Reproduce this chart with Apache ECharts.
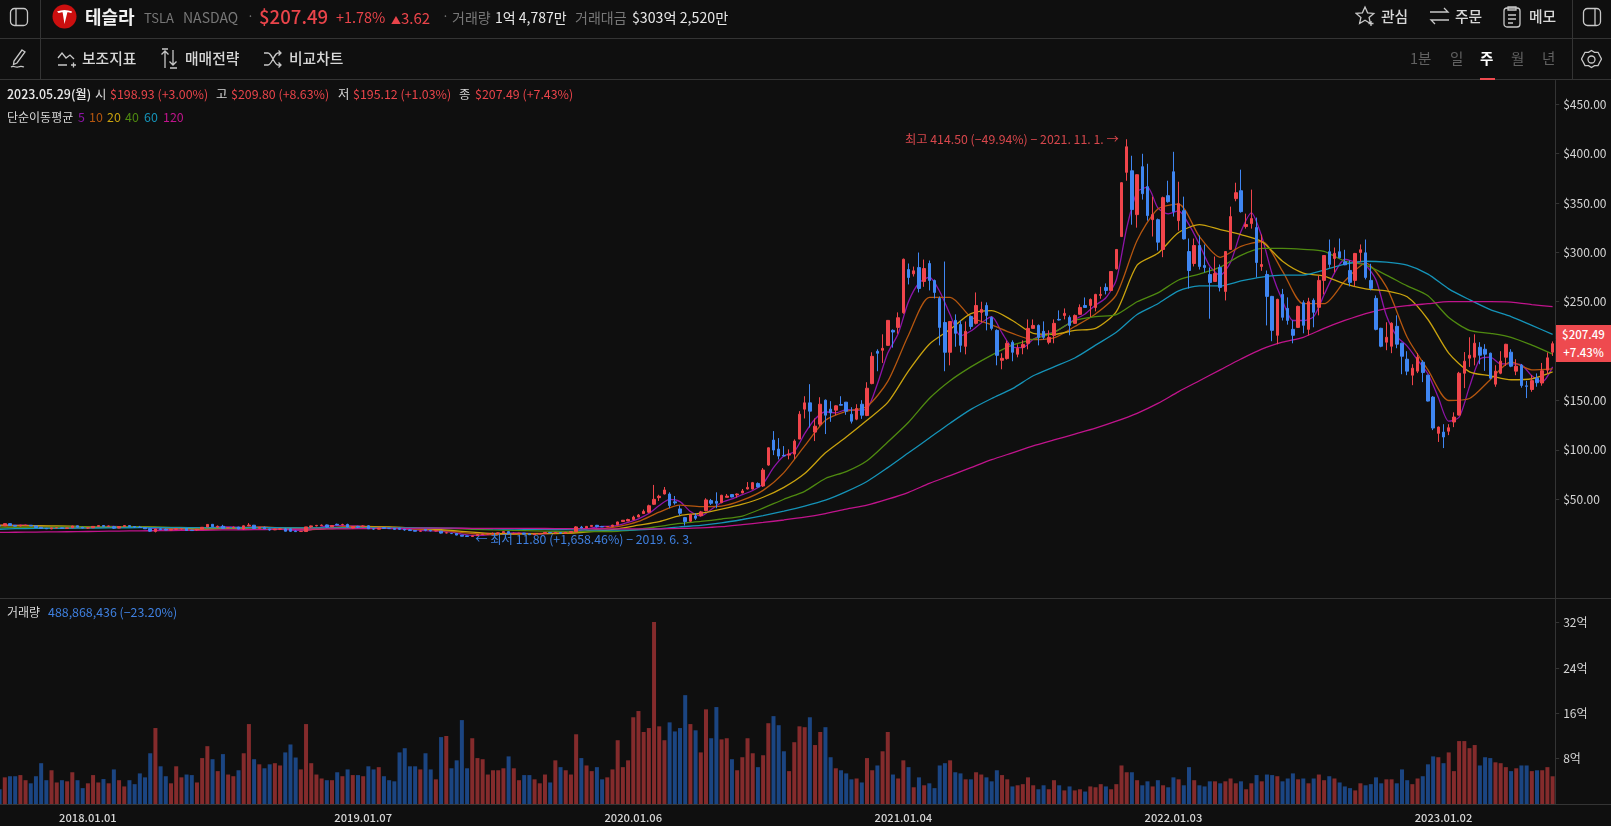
<!DOCTYPE html>
<html>
<head>
<meta charset="utf-8">
<title>테슬라 주봉</title>
<script src="https://cdn.jsdelivr.net/npm/echarts@6/dist/echarts.min.js"></script>
<style>
html, body { margin: 0; padding: 0; background: #0f0f0f; width: 1611px; height: 826px; overflow: hidden; }
body, #main { font-family: "Noto Sans CJK KR", "Noto Sans", sans-serif; }
/* first week is cut by the left edge, so the chart starts a little off the page */
#main { position: absolute; left: -3.4px; top: 0; width: 1614.4px; height: 826px; }
.t { position: absolute; white-space: nowrap; line-height: 1; transform: translateY(-50%); font-size: 12.4px; color: #d8d8d8; }
.r { color: #e9444a; } .g { color: #777; } .w { color: #e8e8e8; } .b { color: #d8d8d8; font-size: 14.8px; font-weight: 500; }
.hl { position: absolute; left: 0; width: 1611px; height: 1px; background: #343434; }
.vl { position: absolute; top: 0; width: 1px; height: 79px; background: #343434; }
svg { position: absolute; fill: none; stroke: #c8c8c8; stroke-width: 1.3; }
#badge { position: absolute; left: 1556px; width: 55px; height: 37px; background: #ee4a4f; color: #fff; font-size: 11.5px; font-weight: 500; text-align: center; line-height: 18px; }
</style>
</head>
<body>
<div id="main"></div>

<div class="hl" style="top:38px"></div>
<div class="hl" style="top:79px"></div>
<div class="hl" style="top:598px"></div>
<div class="hl" style="top:804px"></div>
<div class="vl" style="left:40px"></div>
<div class="vl" style="left:1572px"></div>

<svg style="left:9px;top:7px" width="20" height="20"><rect x="1.5" y="1.5" width="17" height="17" rx="4"/><path d="M7 2v16"/></svg>
<svg style="left:52px;top:4px;stroke:none" width="25" height="25"><circle cx="12.5" cy="12.5" r="12" fill="#cc0f0f"/><path d="M5 7.5c5-2 10-2 15 0l-.6 1.6c-1.6-.7-3-.9-4-.9L12.500 20 10.600 8.200c-1 0-2.400.2-4 .9z" fill="#fff"/></svg>
<div class="t" style="left:85px;top:16px;font-size:18px;font-weight:700;color:#f2f2f2">테슬라</div>
<div class="t g" style="left:144px;top:17px;font-size:13px">TSLA</div>
<div class="t g" style="left:183px;top:17px;font-size:14px">NASDAQ</div>
<div class="t g" style="left:247px;top:16px">·</div>
<div class="t r" style="left:259px;top:16px;font-size:18.6px;font-weight:500">$207.49</div>
<div class="t r" style="left:336px;top:17px;font-size:14.4px">+1.78%</div>
<div class="t r" style="left:391px;top:17px;font-size:15px"><span style="font-size:10px">▲</span>3.62</div>
<div class="t g" style="left:442px;top:16px">·</div>
<div class="t g" style="left:452px;top:17px;font-size:14px">거래량</div>
<div class="t w" style="left:495px;top:17px;font-size:14px">1억 4,787만</div>
<div class="t g" style="left:575px;top:17px;font-size:14px">거래대금</div>
<div class="t w" style="left:632px;top:17px;font-size:14.2px">$303억 2,520만</div>

<svg style="left:1355px;top:5px" width="22" height="22"><path d="M10 2l2.600 5.800 6.200.6-4.700 4.100 1.300 6-5.400-3.200-5.400 3.200 1.300-6L1.200 8.400l6.200-.6z"/><path d="M16 16v5M13.500 18.500h5"/></svg>
<div class="t b" style="left:1381px;top:16px">관심</div>
<svg style="left:1429px;top:6px" width="21" height="20"><path d="M1 6h18l-4-4M20 14H2l4 4"/></svg>
<div class="t b" style="left:1455px;top:16px">주문</div>
<svg style="left:1502px;top:5px" width="20" height="23"><rect x="2" y="3" width="16" height="19" rx="3"/><path d="M6 2h8v3H6zM6 10h8M6 14h8M6 18h5"/></svg>
<div class="t b" style="left:1529px;top:16px">메모</div>
<svg style="left:1582px;top:7px" width="20" height="20"><rect x="1.5" y="1.5" width="17" height="17" rx="4"/><path d="M13 2v16"/></svg>

<svg style="left:8px;top:48px" width="22" height="22"><path d="M14 2l3 2-8 11-3.500 1.500L6 13zM3 19c3-2 4 1 7 0s3-1 6 0"/></svg>
<svg style="left:57px;top:50px" width="20" height="18"><path d="M1 8l4-5 4 5 4-3 4 4M1 15h9M14 15h5M16.500 12.500v5"/></svg>
<div class="t b" style="left:82px;top:58px">보조지표</div>
<svg style="left:160px;top:48px" width="20" height="22"><path d="M5 20V3M1.500 6.500L5 3l3.500 3.500M13 2v15M9.500 13.500L13 17l3.500-3.500M2 1h6M10 20h7"/></svg>
<div class="t b" style="left:185px;top:58px">매매전략</div>
<svg style="left:263px;top:49px" width="20" height="20"><path d="M1 4h4c4 0 6 12 10 12h3M1 16h4c4 0 6-12 10-12h3M15.500 1.500L18 4l-2.500 2.500M15.500 13.500L18 16l-2.500 2.500"/></svg>
<div class="t b" style="left:289px;top:58px">비교차트</div>

<div class="t g" style="left:1410px;top:58px;font-size:14.5px;color:#616161">1분</div>
<div class="t g" style="left:1450px;top:58px;font-size:14.5px;color:#616161">일</div>
<div class="t" style="left:1480px;top:58px;font-size:14.5px;font-weight:700;color:#fff">주</div>
<div class="t g" style="left:1511px;top:58px;font-size:14.5px;color:#616161">월</div>
<div class="t g" style="left:1542px;top:58px;font-size:14.5px;color:#616161">년</div>
<div style="position:absolute;left:1480px;top:78px;width:15px;height:2px;background:#ee4a4f"></div>
<svg style="left:1581px;top:49px" width="21" height="21"><path d="M10.500 1.500l3 1.800 3.500 0 1.700 3.200 1.800 3.500-1.800 3.200-1.700 3.300-3.500.1-3 1.900-3-1.900-3.500-.1-1.700-3.300L.500 10l1.800-3.500L4 3.300l3.500 0z"/><circle cx="10.500" cy="10.500" r="3.500"/></svg>

<div class="t w" style="left:7px;top:94px;font-weight:500">2023.05.29(월)</div>
<div class="t" style="left:95px;top:94px">시</div>
<div class="t r" style="left:110px;top:94px">$198.93 (+3.00%)</div>
<div class="t" style="left:216px;top:94px">고</div>
<div class="t r" style="left:231px;top:94px">$209.80 (+8.63%)</div>
<div class="t" style="left:338px;top:94px">저</div>
<div class="t r" style="left:353px;top:94px">$195.12 (+1.03%)</div>
<div class="t" style="left:459px;top:94px">종</div>
<div class="t r" style="left:475px;top:94px">$207.49 (+7.43%)</div>

<div class="t" style="left:7px;top:117px;font-size:12px">단순이동평균</div>
<div class="t" style="left:78px;top:117px;color:#8e14a8">5</div>
<div class="t" style="left:89px;top:117px;color:#b5560f">10</div>
<div class="t" style="left:107px;top:117px;color:#c9a20e">20</div>
<div class="t" style="left:125px;top:117px;color:#4f8a10">40</div>
<div class="t" style="left:144px;top:117px;color:#1593b8">60</div>
<div class="t" style="left:163px;top:117px;color:#c0148c">120</div>

<div class="t" style="left:7px;top:612px;font-size:12px">거래량</div>
<div class="t" style="left:48px;top:612px;color:#3f80e0">488,868,436 (−23.20%)</div>

<div id="badge">$207.49<br>+7.43%</div>

<script>
// weekly candles, one row per week from 2017.09.04: [open, close, low, high]
var candles = [
	[23.3,22.9,22.6,23.7],[23.1,25.3,23.0,25.4],[25.3,23.4,23.2,25.8],[23.6,22.7,22.4,23.9],[22.9,23.7,22.7,24.0],
	[23.6,23.7,23.0,24.0],[23.7,23.0,22.9,23.9],[23.0,21.4,21.2,23.1],[21.5,20.4,19.9,21.9],[20.6,20.1,19.9,20.9],
	[20.0,21.0,19.7,21.2],[21.0,21.1,20.8,21.4],[21.1,20.4,20.2,21.3],[20.5,21.0,20.2,21.2],[21.1,22.9,21.0,23.0],
	[23.1,21.7,21.5,23.2],[21.6,20.8,20.7,22.0],[20.8,21.1,19.9,21.5],[21.1,22.5,21.0,22.6],[22.4,23.3,22.0,23.4],
	[23.4,22.5,22.2,23.8],[22.5,22.9,22.0,23.3],[22.2,20.7,19.9,23.0],[20.8,22.3,20.6,22.6],[22.3,23.3,22.1,23.6],
	[23.3,22.3,21.9,23.6],[22.3,21.8,21.0,22.9],[21.8,21.4,21.0,23.0],[21.3,20.1,19.9,21.5],[20.2,17.7,16.9,20.3],
	[17.4,19.9,16.4,20.1],[20.1,19.2,19.0,20.8],[19.7,18.8,18.7,20.3],[18.8,19.5,18.8,19.8],[19.6,20.2,18.8,20.5],
	[20.0,20.2,19.2,20.6],[20.4,18.4,18.3,20.7],[18.7,18.3,18.3,19.1],[19.0,19.7,18.0,19.8],[19.8,21.6,19.6,21.9],
	[21.9,24.5,21.5,24.7],[24.6,22.2,22.0,24.9],[21.7,22.6,20.8,23.4],[22.6,20.6,20.2,24.1],[21.1,21.2,20.6,21.8],
	[21.1,21.8,20.8,22.3],[21.9,19.8,19.6,22.0],[19.9,23.1,19.1,23.5],[23.1,23.8,22.8,25.8],[23.7,20.4,20.0,24.0],
	[20.6,21.5,20.5,21.9],[21.5,20.1,19.9,22.3],[19.9,18.9,18.2,20.0],[19.0,19.8,18.7,20.1],[19.7,20.0,18.8,20.4],
	[20.0,17.6,17.5,21.0],[20.0,17.5,16.9,20.6],[17.7,17.2,16.9,18.5],[17.3,17.4,16.9,18.0],[17.3,22.0,17.0,22.0],
	[22.0,23.0,21.0,23.4],[23.0,23.5,22.5,24.0],[23.3,23.8,22.8,24.4],[24.0,21.8,21.4,24.4],[22.0,23.4,21.8,23.6],
	[24.6,23.9,23.6,25.3],[24.1,24.4,23.5,25.2],[24.5,21.9,21.6,25.2],[20.9,22.2,20.5,22.6],[22.5,21.8,20.7,23.1],
	[22.0,23.0,21.7,23.5],[23.1,20.1,19.9,23.5],[20.1,19.8,19.0,20.4],[19.7,20.9,19.4,21.0],[21.3,20.4,20.3,21.4],
	[20.6,20.5,19.9,20.9],[20.5,19.5,19.3,20.7],[20.7,19.6,19.0,21.0],[19.6,18.9,18.1,20.0],[19.0,18.3,18.0,19.9],
	[18.4,17.6,17.5,18.6],[17.6,17.9,17.1,18.2],[19.4,18.5,17.6,19.6],[18.5,17.9,17.5,18.6],[17.8,18.2,17.5,18.4],
	[17.7,15.7,15.2,17.9],[15.9,16.0,15.5,16.5],[15.3,15.2,14.9,16.0],[15.3,13.7,13.5,15.6],[13.6,12.6,12.5,13.8],
	[12.9,12.3,12.2,13.1],[12.3,13.0,11.8,13.1],[13.1,14.2,13.0,14.8],[14.4,14.9,14.3,15.1],[14.9,15.0,14.4,15.2],
	[15.0,15.4,14.9,16.3],[15.2,16.0,15.1,16.3],[16.0,17.2,16.0,17.5],[17.2,15.2,15.0,17.6],[15.2,15.5,15.0,16.2],
	[15.1,15.7,14.9,16.0],[15.7,14.6,14.4,15.9],[15.0,14.1,14.0,15.3],[14.1,15.0,14.0,15.3],[14.9,15.2,14.7,15.4],
	[15.3,16.4,15.1,16.4],[16.4,16.0,15.6,16.6],[16.0,16.2,14.9,16.6],[16.3,15.6,15.1,16.6],[15.5,16.5,15.1,16.8],
	[16.5,17.2,16.4,17.3],[17.2,22.0,16.9,22.7],[21.8,20.9,20.6,23.0],[21.0,22.5,20.8,22.7],[22.5,23.5,22.4,23.7],
	[23.6,22.2,21.4,24.0],[22.3,22.0,21.9,23.0],[22.1,22.4,22.0,22.9],[22.5,23.8,22.2,24.1],[24.2,27.0,24.0,27.3],
	[27.4,28.7,27.4,29.0],[28.0,29.5,27.9,30.3],[29.4,31.9,29.3,33.3],[32.0,34.0,31.9,35.0],[35.5,37.7,35.4,39.6],
	[36.9,43.4,35.9,44.5],[44.9,49.9,44.2,64.5],[51.6,53.0,48.3,54.5],[55.3,59.4,54.9,62.4],[55.3,43.6,40.9,57.0],
	[47.4,46.3,44.5,53.3],[40.2,35.8,33.5,43.6],[31.4,27.4,23.4,32.1],[27.7,34.5,26.9,35.2],[33.1,30.8,29.1,35.8],
	[33.4,37.2,32.4,38.2],[38.5,49.3,37.8,51.0],[48.6,45.9,44.2,50.3],[47.9,45.9,40.9,57.0],[46.6,54.0,45.9,54.5],
	[51.9,53.2,51.9,55.3],[54.7,52.3,51.9,55.3],[54.4,55.3,51.6,55.9],[56.4,58.4,56.0,60.4],[60.4,62.0,60.0,67.4],
	[60.4,66.8,60.0,67.5],[66.0,62.4,61.9,67.0],[63.4,79.6,62.4,81.6],[84.6,102.1,83.9,102.5],[109.9,99.8,94.7,119.0],
	[100.8,93.7,90.3,111.9],[94.4,93.8,93.6,103.8],[94.7,95.7,90.4,100.5],[95.7,108.9,90.7,110.6],[110.9,136.1,110.9,139.2],
	[141.2,147.6,131.8,154.3],[147.6,139.2,122.7,166.5],[118.0,124.0,108.9,131.8],[126.0,146.2,124.0,153.3],[150.3,135.1,116.0,151.0],
	[141.2,137.5,128.4,149.3],[140.2,144.6,135.1,145.2],[145.9,145.2,145.0,154.3],[148.3,139.2,135.5,148.5],[136.1,129.0,126.7,143.2],
	[131.1,141.9,130.0,146.2],[146.2,135.1,131.4,150.3],[134.8,162.4,134.1,168.5],[167.1,194.7,166.4,198.8],[199.8,197.8,179.6,201.8],
	[200.8,202.8,188.0,217.0],[205.8,231.1,205.5,231.5],[221.0,219.3,203.5,222.0],[224.0,233.8,217.6,239.2],[238.8,293.0,237.8,293.7],
	[282.6,274.5,267.5,288.7],[278.2,281.3,275.5,285.6],[284.6,263.4,259.4,299.8],[270.5,283.6,265.1,292.7],[288.7,271.5,261.4,291.7],
	[271.5,259.4,253.3,272.5],[253.3,224.0,205.8,255.3],[229.0,198.8,179.6,290.7],[198.8,230.0,185.6,230.5],[231.1,218.0,204.4,237.2],
	[227.0,205.8,198.8,231.1],[204.8,220.0,196.7,230.0],[235.1,225.0,222.0,236.1],[228.1,246.2,227.0,259.4],[239.2,242.2,229.0,250.0],
	[246.2,236.1,221.0,249.3],[234.1,223.0,221.0,235.1],[221.0,195.7,185.6,222.0],[190.7,192.7,181.6,197.8],[192.4,207.9,191.4,210.6],
	[208.9,198.8,189.7,210.9],[196.8,202.8,193.7,206.8],[203.8,206.8,196.8,210.9],[207.9,223.0,201.8,232.1],[223.0,226.0,222.8,232.1],
	[226.0,213.9,205.8,227.0],[220.0,213.9,211.9,230.1],[208.9,213.9,206.9,221.0],[215.9,228.1,207.9,232.1],[232.1,231.5,231.0,241.2],
	[236.1,238.2,232.1,243.2],[234.1,226.0,216.0,236.1],[228.1,236.1,227.5,237.1],[237.2,244.2,237.0,247.3],[246.2,244.2,244.0,254.3],
	[246.2,252.3,234.5,253.3],[244.2,257.4,240.2,258.0],[256.4,257.4,253.0,265.1],[264.5,261.4,257.4,268.5],[261.4,280.6,261.0,281.0],
	[283.3,302.9,282.6,303.4],[316.0,370.5,315.5,371.0],[381.0,406.9,372.5,414.5],[382.6,343.3,328.0,397.8],[338.2,378.6,325.0,379.0],
	[386.7,359.4,353.4,399.8],[366.5,337.2,332.1,389.7],[333.1,338.2,316.0,356.4],[333.1,310.3,301.8,334.2],[302.9,355.4,295.1,356.4],
	[357.4,351.3,350.3,372.5],[381.6,341.2,336.2,401.8],[332.1,349.3,322.0,371.5],[342.2,313.6,313.0,356.4],[300.8,281.6,263.4,314.0],
	[288.7,306.9,285.7,314.0],[306.9,285.7,282.6,317.0],[286.7,284.7,279.6,307.9],[277.6,269.5,232.8,284.7],[270.5,278.6,270.0,295.8],
	[284.7,264.5,260.4,287.7],[260.4,300.8,251.3,301.3],[302.9,336.2,302.5,346.3],[354.4,360.4,351.7,370.5],[362.4,341.2,340.2,383.7],
	[326.1,328.1,324.0,339.2],[329.1,334.2,324.0,363.5],[325.1,289.7,274.6,335.2],[285.7,287.7,281.3,318.0],[277.6,255.4,226.0,281.6],
	[255.4,221.0,210.0,255.9],[216.0,252.4,207.0,253.0],[257.4,234.2,231.0,263.0],[243.3,231.1,226.8,254.4],[222.0,216.0,207.9,231.0],
	[224.0,245.3,223.5,246.0],[249.0,226.1,218.0,251.4],[222.0,250.0,216.0,254.0],[251.4,239.3,224.1,253.4],[244.3,271.6,236.2,276.6],
	[271.6,296.8,257.4,297.3],[300.6,287.8,284.4,313.0],[293.8,299.0,279.7,304.9],[300.6,294.5,294.0,314.0],[290.4,287.4,287.0,302.6],
	[281.7,269.6,265.5,291.8],[271.6,298.9,265.5,299.4],[299.9,302.6,290.4,308.0],[299.5,274.6,272.6,313.0],[271.6,263.5,261.5,288.4],
	[253.4,222.0,221.0,256.4],[223.1,204.9,203.9,223.6],[209.0,214.0,200.9,229.2],[204.9,228.2,197.9,229.2],[225.1,207.0,202.9,236.2],
	[208.0,194.8,176.6,208.5],[191.8,179.7,175.6,199.9],[175.6,182.7,165.5,186.7],[179.7,193.8,177.7,197.9],[188.8,178.3,168.6,190.8],
	[175.6,149.4,149.0,176.0],[153.4,122.1,120.0,154.4],[116.7,123.1,108.0,123.6],[118.0,113.0,101.8,126.0],[118.9,122.4,114.9,126.0],
	[128.2,133.2,123.0,138.0],[135.2,177.6,134.8,179.0],[177.6,189.8,162.5,199.0],[192.8,195.8,184.0,214.0],[193.8,208.0,185.5,217.0],
	[203.9,195.8,186.7,209.0],[201.9,196.9,180.0,207.0],[197.9,172.6,171.6,198.4],[166.5,179.7,163.9,185.7],[177.6,189.8,176.6,199.9],
	[193.8,206.9,185.0,207.4],[198.9,184.7,183.7,201.9],[179.7,184.7,175.6,191.8],[185.7,165.2,163.0,187.0],[164.8,164.3,152.4,169.9],
	[161.1,170.1,158.8,175.8],[172.6,168.0,163.9,177.4],[167.7,180.1,165.0,188.0],[180.7,193.2,176.9,198.6],[198.93,207.49,195.12,209.8]
]

// weekly volume in 억 shares
var volumes = [
	2.6,4.7,4.9,4.9,5.1,4.2,3.65,4.9,7.2,4.2,5.95,3.8,4.2,4.0,5.6,4.2,2.8,3.65,5.1,3.8,4.4,3.65,6.1,4.2,3.1,4.2,3.5,5.4,4.7,8.95,
	13.4,6.65,4.9,3.65,6.65,4.7,5.2,5.1,3.8,8.1,10.2,7.9,5.8,8.8,5.2,4.9,5.95,8.95,14.1,7.9,7.0,6.3,7.0,7.2,6.8,9.1,10.5,8.2,6.1,14.1,
	7.2,5.2,4.5,4.2,4.2,5.6,4.9,6.1,5.1,5.1,4.9,6.65,6.1,6.5,4.9,4.2,4.0,9.1,
	9.84,6.65,6.65,6.1,8.95,6.1,4.35,11.8,12.0,6.3,7.7,14.8,6.3,11.6,8.1,7.9,5.2,5.95,5.95,6.3,8.4,6.3,4.2,5.1,5.1,4.35,3.65,5.2,3.8,7.7,
	6.5,5.95,5.2,12.3,8.1,6.8,5.8,6.5,4.35,4.7,6.1,11.25,6.5,7.7,15.3,16.4,12.7,13.4,32.1,13.7,11.25,14.4,12.8,13.4,19.2,14.1,13.0,9.1,16.7,11.6,
	17.1,11.4,11.6,7.9,5.95,8.25,11.6,8.95,6.5,8.6,14.25,15.5,13.9,9.3,5.8,10.9,13.7,
	13.55,15.3,10.4,12.7,13.55,8.25,6.3,5.95,5.4,4.35,4.5,3.8,8.1,5.95,6.8,9.3,12.7,5.2,4.5,7.7,6.5,2.95,4.7,3.3,3.65,2.8,6.8,7.2,7.7,5.6,
	5.4,4.35,4.35,5.6,5.2,4.7,4.0,5.95,5.1,4.35,3.1,3.3,3.5,4.7,3.3,2.6,3.3,2.6,4.2,3.3,2.4,3.1,2.4,2.6,2.2,3.1,2.95,3.5,3.1,2.6,
	3.5,6.8,5.6,5.6,4.2,3.3,4.0,3.1,4.2,3.3,2.95,4.7,4.35,3.3,6.5,4.2,3.3,
	3.1,4.0,4.0,3.65,4.0,4.5,3.65,4.0,2.6,3.65,5.1,4.0,5.2,5.1,4.9,4.0,4.5,5.4,4.35,4.5,3.65,4.5,5.2,4.2,4.9,4.5,3.8,3.1,2.8,2.4,
	3.65,3.3,3.5,4.7,3.65,4.35,4.35,3.65,6.1,4.2,3.5,4.5,4.9,7.0,8.4,8.25,7.2,9.1,5.8,11.1,11.1,9.85,10.4,6.8,8.25,8.1,7.35,7.2,6.5,5.8,
	6.3,6.8,6.8,5.8,5.95,5.95,6.5,4.89
]

// moving averages read every 2nd week (ma5) or every 4th week, last value = last week
var ma5 = [
	23.4,24,23.6,23.8,22.9,21.7,20.8,20.7,21.3,21.5,21.9,22.5,22.3,22.3,22.2,20.7,19.7,19.1,19.6,19.3,19.5,
	21.1,22.3,21.8,21.3,21.8,21.8,20.1,19.3,18.4,18.3,20.6,22.9,23.3,23.1,23,21.8,21.1,20.3,20.1,19.4,
	18.5,18,17.6,16.6,14.6,13.4,13.4,14.5,15.5,15.9,15.6,15,15.1,15.8,16.1,17.5,19.7,22.1,22.5,23.5,
	26.5,30.2,35.5,43.6,49.9,47.6,37.5,33.1,39.6,46.7,50.3,54.6,58.8,65.8,82,93.8,98.2,116.4,131.2,138.6,
	137.5,140.7,140,141.5,166.6,198,217.6,250.2,269,274.8,260.4,237,215.6,220.3,228.5,234.9,218.4,204.1,203.5,212,
	216.5,219,225,232,237.6,246.6,254,272,324.6,361,366,345,339,342,328,308,286,277,290,321,
	340,316,278,251,231,231,235,257,279,293,290,287,272,236,215,205,191,177,153,129,
	133,164,192,194,187,187,186,175,169,184
]
var ma10 = [
	24,23.6,23.2,22.1,21.3,21.5,22,22.3,21,19.9,19.4,20.9,21.5,21.7,20.6,19,20.6,22.4,22.5,21.4,20,
	18.9,17.4,15.3,14.3,14.9,15.4,15.6,16.5,19.5,22.2,27.5,37,44,42.5,43,49,59,77,104,130,
	139,144,169.4,216.3,254.4,254.5,234.5,226.5,217.9,211.6,213.4,224.9,237.6,257,312,344,348.8,316,295,306,
	311,281,248,248,271,289,265,214,181,150,152,171,189,181,182
]
var ma20 = [
	23,23,23.2,23,22.6,21.6,21.7,22,21.6,20.8,19.9,20.3,20.8,21.4,21.1,20,20.2,21.1,22,21.9,21,
	19.8,18.4,16.7,15.3,14.8,15,15.3,16,17.7,20.1,23.7,27.4,33.5,35.8,40,45,52,62,76,97,
	113,130,148,180,207,222,238,241,231,218,217,221,223,240,287,299,320,328,323,318,
	311,291,279,276,268,263,261,255,232,198,179,175,171,172,179
]
var ma40 = [
	21.1,21.3,21.6,21.9,22,22,22,21.9,21.7,21.4,21,21,21.2,21.3,21.2,21,20.8,20.8,21,21,21,
	20.7,20.3,19.6,18.9,18.4,18,17.6,17.2,17.3,17.6,19.5,22.5,25.5,27.5,30,33,41,50,58,71,
	78,89,108,128,152,170,184,196,206,212,219,231,235,237,250,259,272,278,285,297,
	304,304,303,301,291,287,277,266,256,234,221,218,214,206,197
]
var ma60 = [
	19.6,20.2,20.4,20.6,20.7,20.9,21,21.2,21.2,21.3,21.2,21.2,21.2,21.2,21.1,21,21,21,21.1,21.1,21,
	20.9,20.7,20.3,20,19.7,19.5,19.3,19,18.7,18.7,19,20,22,23.5,26,29.5,33.5,38,43,49,
	57.7,68,82,97,112,127,141,152,162,175,184,193,206,219,237,248,261,266,266,271,
	275,277,277,282,288,291,290,287,278,263,252,242,235,226,217
]
var ma120 = [
	16.4,16.6,16.8,17,17.2,17.5,17.8,18,18.2,18.4,18.6,18.9,19.1,19.3,19.5,19.7,19.9,20,20.3,20.5,20.6,
	20.7,20.7,20.6,20.6,20.5,20.4,20.3,20.2,20.1,20,19.9,20,20.4,21,22.2,24.3,26.5,29,31.8,35.5,
	40,44,50,57,66,74,82,90,97,104,110,116,122,129,137,147,159,170,181,192,
	202,209,214,223,231,238,243,246,248,250,250,250,249.5,247,245
]

var priceTicks = [50,100,150,200,250,300,350,400,450]
var volumeTicks = [8,16,24,32]
var dateTicks = ['2018.01.01','2019.01.07','2020.01.06','2021.01.04','2022.01.03','2023.01.02']

var upColor = '#f0454b'
var downColor = '#3f86f2'

// one label per week, starting 2017.09.04
var weeks = []
for (var i = 0; i < candles.length; i++) {
	var d = new Date(Date.UTC(2017, 8, 4 + i * 7))
	var mm = ('0' + (d.getUTCMonth() + 1)).slice(-2)
	var dd = ('0' + d.getUTCDate()).slice(-2)
	weeks.push(d.getUTCFullYear() + '.' + mm + '.' + dd)
}

// the first value of each list stands for the left edge of the chart
function sampled(values, step) {
	return values.map(function(v, k) {
		return [Math.max(0, candles.length - 1 - (values.length - 1 - k) * step), v]
	})
}

function maSeries(name, values, step, color) {
	return {
		name: name,
		type: 'line',
		data: sampled(values, step),
		symbol: 'none',
		smooth: 0.25,
		z: 2,
		lineStyle: { width: 1.3, color: color },
		silent: true
	}
}

var myChart = echarts.init(document.getElementById('main'))

var axisColor = '#343434'
var labelColor = '#d6d6d6'

var option = {
	animation: false,
	backgroundColor: '#0f0f0f',
	textStyle: { fontFamily: '"Noto Sans CJK KR", "Noto Sans", sans-serif' },
	grid: [
		{ left: 0, right: 55.8, top: 80.5, height: 517.5 },
		{ left: 0, right: 55.8, top: 598.5, height: 205.5 }
	],
	xAxis: [{
		type: 'category',
		gridIndex: 0,
		data: weeks,
		axisLine: { show: false },
		axisTick: { show: false },
		axisLabel: { show: false }
	}, {
		type: 'category',
		gridIndex: 1,
		data: weeks,
		axisLine: { show: false },
		axisTick: { show: false },
		axisLabel: {
			color: labelColor,
			fontSize: 11.2,
			fontWeight: 500,
			margin: 8,
			hideOverlap: false,
			interval: function(index, value) {
				return dateTicks.indexOf(value) >= 0
			}
		}
	}],
	yAxis: [{
		type: 'value',
		gridIndex: 0,
		position: 'right',
		min: -50,
		max: 474,
		interval: 50,
		splitLine: { show: false },
		axisLine: { show: true, lineStyle: { color: axisColor } },
		axisTick: { show: true, length: 4, customValues: priceTicks, lineStyle: { color: axisColor } },
		axisLabel: {
			color: labelColor,
			fontSize: 12,
			margin: 8,
			customValues: priceTicks,
			formatter: function(v) { return '$' + v.toFixed(2) }
		}
	}, {
		type: 'value',
		gridIndex: 1,
		position: 'right',
		min: 0,
		max: 36.25,
		interval: 8,
		splitLine: { show: false },
		axisLine: { show: true, lineStyle: { color: axisColor } },
		axisTick: { show: true, length: 4, customValues: volumeTicks, lineStyle: { color: axisColor } },
		axisLabel: {
			color: labelColor,
			fontSize: 12,
			margin: 8,
			customValues: volumeTicks,
			formatter: function(v) { return v + '억' }
		}
	}],
	series: [
		maSeries('5', ma5, 2, '#8e14a8'),
		maSeries('10', ma10, 4, '#b5560f'),
		maSeries('20', ma20, 4, '#c9a20e'),
		maSeries('40', ma40, 4, '#4f8a10'),
		maSeries('60', ma60, 4, '#1593b8'),
		maSeries('120', ma120, 4, '#c0148c'),
		{
			name: '주봉',
			type: 'candlestick',
			data: candles,
			barWidth: 3,
			z: 3,
			itemStyle: {
				color: upColor,
				color0: downColor,
				borderColor: upColor,
				borderColor0: downColor,
				borderWidth: 1
			},
			markPoint: {
				symbol: 'circle',
				symbolSize: 0,
				silent: true,
				data: [{
					coord: ['2021.11.01', 414.5],
					label: {
						position: 'left',
						distance: 8,
						color: '#d8474c',
						fontSize: 12.3,
						formatter: '최고 414.50 (−49.94%) − 2021. 11. 1. →'
					}
				}, {
					coord: ['2019.06.03', 11.8],
					label: {
						position: 'right',
						distance: 3,
						offset: [0, 2],
						color: '#3f80e0',
						fontSize: 12.3,
						formatter: '← 최저 11.80 (+1,658.46%) − 2019. 6. 3.'
					}
				}]
			}
		},
		{
			name: '거래량',
			type: 'bar',
			xAxisIndex: 1,
			yAxisIndex: 1,
			barWidth: 4,
			data: volumes.map(function(v, i) {
				var up = candles[i][1] >= candles[i][0]
				return { value: v, itemStyle: { color: up ? '#842b2c' : '#1b4582' } }
			})
		}
	]
}

myChart.setOption(option)

// price badge sits on the last close
var lastClose = candles[candles.length - 1][1]
var badgeY = myChart.convertToPixel({ yAxisIndex: 0 }, lastClose)
document.getElementById('badge').style.top = Math.round(badgeY - 18.5) + 'px'
</script>
</body>
</html>
